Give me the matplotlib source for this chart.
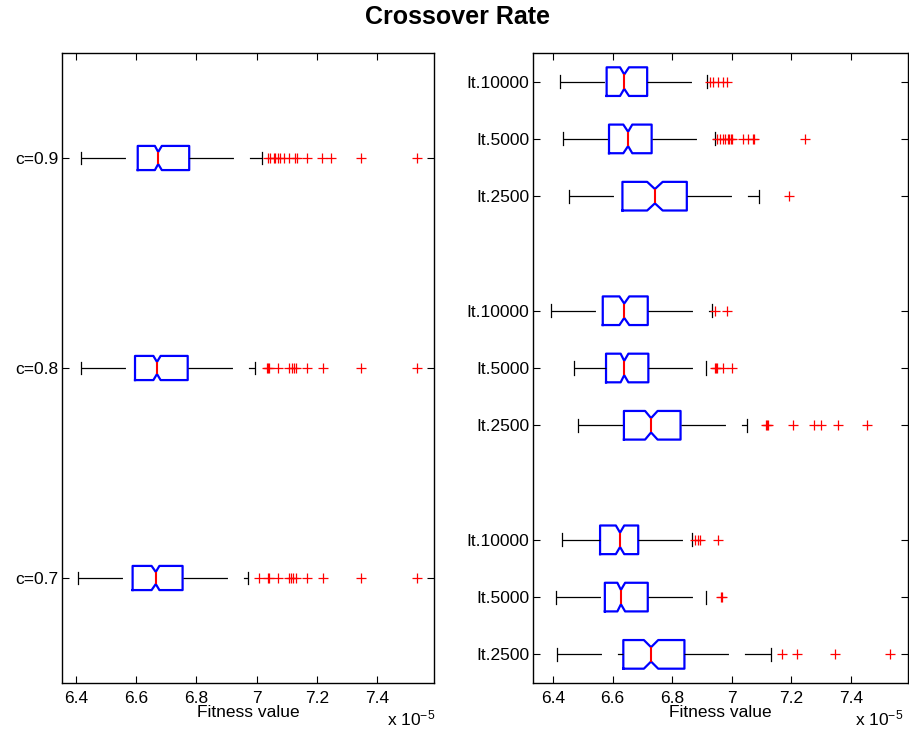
import matplotlib
matplotlib.use('Agg')
import matplotlib.pyplot as plt

plt.rcParams['font.family'] = ['Liberation Sans', 'DejaVu Sans']
plt.rcParams['mathtext.fontset'] = 'custom'
plt.rcParams['mathtext.rm'] = 'Liberation Sans'
plt.rcParams['mathtext.it'] = 'Liberation Sans:italic'
plt.rcParams['mathtext.bf'] = 'Liberation Sans:bold'
plt.rcParams['lines.scale_dashes'] = False

# crossover rate runs (left), bottom to top, fitness in units of 1e-5
c_labels = ['c=0.7', 'c=0.8', 'c=0.9']
c_whislo = [6.408, 6.416, 6.416]
c_q1 = [6.588, 6.596, 6.605]
c_cilo = [6.651, 6.657, 6.662]
c_med = [6.665, 6.669, 6.673]
c_cihi = [6.677, 6.681, 6.685]
c_q3 = [6.754, 6.771, 6.776]
c_whishi = [6.972, 6.995, 7.019]
c_fliers = [
    [7.009, 7.037, 7.042, 7.072, 7.107, 7.113, 7.122, 7.131, 7.166, 7.219, 7.346, 7.534],
    [7.033, 7.039, 7.042, 7.072, 7.109, 7.117, 7.124, 7.131, 7.166, 7.219, 7.346, 7.534],
    [7.039, 7.045, 7.056, 7.061, 7.072, 7.078, 7.091, 7.109, 7.129, 7.133, 7.166, 7.217,
     7.246, 7.346, 7.534],
]

# iteration runs (right), three groups, bottom to top
it_labels = ['It.2500', 'It.5000', 'It.10000'] * 3
it_pos = [1, 2, 3, 5, 6, 7, 9, 10, 11]
it_whislo = [6.415, 6.410, 6.431, 6.483, 6.472, 6.392, 6.455, 6.435, 6.425]
it_q1 = [6.636, 6.574, 6.558, 6.638, 6.578, 6.567, 6.633, 6.588, 6.580]
it_cilo = [6.705, 6.616, 6.611, 6.709, 6.627, 6.623, 6.716, 6.636, 6.625]
it_med = [6.729, 6.628, 6.625, 6.729, 6.639, 6.639, 6.742, 6.652, 6.639]
it_cihi = [6.753, 6.642, 6.639, 6.751, 6.653, 6.656, 6.768, 6.666, 6.655]
it_q3 = [6.841, 6.718, 6.686, 6.828, 6.720, 6.718, 6.849, 6.731, 6.716]
it_whishi = [7.130, 6.913, 6.867, 7.052, 6.913, 6.935, 7.092, 6.944, 6.918]
it_fliers = [
    [7.167, 7.218, 7.346, 7.531],
    [6.963, 6.967],
    [6.877, 6.886, 6.893, 6.953],
    [7.115, 7.119, 7.123, 7.204, 7.274, 7.298, 7.357, 7.453],
    [6.944, 6.947, 6.949, 6.969, 7.000],
    [6.944, 6.983],
    [7.193],
    [6.951, 6.960, 6.969, 6.977, 6.986, 6.992, 6.997, 7.002, 7.039, 7.055, 7.070,
     7.076, 7.246],
    [6.927, 6.938, 6.955, 6.969, 6.983],
]

xticks = [6.4, 6.6, 6.8, 7.0, 7.2, 7.4]
xtick_labels = ['6.4', '6.6', '6.8', '7', '7.2', '7.4']


def make_stats(whislo, q1, cilo, med, cihi, q3, whishi, fliers):
    stats = []
    for i in range(len(med)):
        stats.append(dict(whislo=whislo[i], q1=q1[i], cilo=cilo[i], med=med[i],
                          cihi=cihi[i], q3=q3[i], whishi=whishi[i],
                          fliers=fliers[i]))
    return stats


def draw(ax, stats, pos, width, capw, labels, ylim, xlim):
    bp = ax.bxp(stats, positions=pos, widths=width, capwidths=capw,
                orientation='horizontal', shownotches=True, patch_artist=False,
                boxprops=dict(color='blue', linewidth=1.6),
                medianprops=dict(color='red', linewidth=1.5),
                whiskerprops=dict(color='black', linewidth=0.9, dashes=(32, 11.5)),
                capprops=dict(color='black', linewidth=0.9),
                flierprops=dict(marker='+', markeredgecolor='red', markersize=7,
                                markeredgewidth=0.9, linestyle='none'))
    # lower whiskers start their dash pattern at the cap
    for w in bp['whiskers'][0::2]:
        w.set_data(w.get_xdata()[::-1], w.get_ydata()[::-1])
    ax.set_xlim(xlim)
    ax.set_ylim(ylim)
    ax.set_yticks(pos)
    ax.set_yticklabels(labels)
    ax.set_xticks(xticks)
    ax.set_xticklabels(xtick_labels)
    ax.tick_params(direction='in', top=True, right=True, length=5, width=0.8,
                   labelsize=12.5)
    ax.tick_params(axis='y', pad=2.5)
    ax.tick_params(axis='x', pad=6)
    for s in ax.spines.values():
        s.set_linewidth(1.0)
    ax.set_xlabel('Fitness value', fontsize=12.5, labelpad=-1)


fig = plt.figure(figsize=(9.09, 7.38), dpi=100)
ax1 = fig.add_axes([62 / 909, 55 / 738, 372 / 909, 630 / 738])
ax2 = fig.add_axes([533 / 909, 55 / 738, 375 / 909, 630 / 738])

draw(ax1, make_stats(c_whislo, c_q1, c_cilo, c_med, c_cihi, c_q3, c_whishi, c_fliers),
     [1, 2, 3], 0.115, 0.058, c_labels, (0.5, 3.5), (6.3535, 7.589))
draw(ax2, make_stats(it_whislo, it_q1, it_cilo, it_med, it_cihi, it_q3, it_whishi,
                     it_fliers),
     it_pos, 0.5, 0.23, it_labels, (0.5, 11.5), (6.333, 7.591))

fig.text(435 / 909, 13 / 738, r'x 10$^{-5}$', fontsize=12.5, ha='right', va='baseline')
fig.text(903 / 909, 13 / 738, r'x 10$^{-5}$', fontsize=12.5, ha='right', va='baseline')
fig.text(457 / 909, 714 / 738, 'Crossover Rate', fontsize=18, fontweight='bold',
         ha='center', va='baseline')

fig.savefig('out.png', dpi=100)
